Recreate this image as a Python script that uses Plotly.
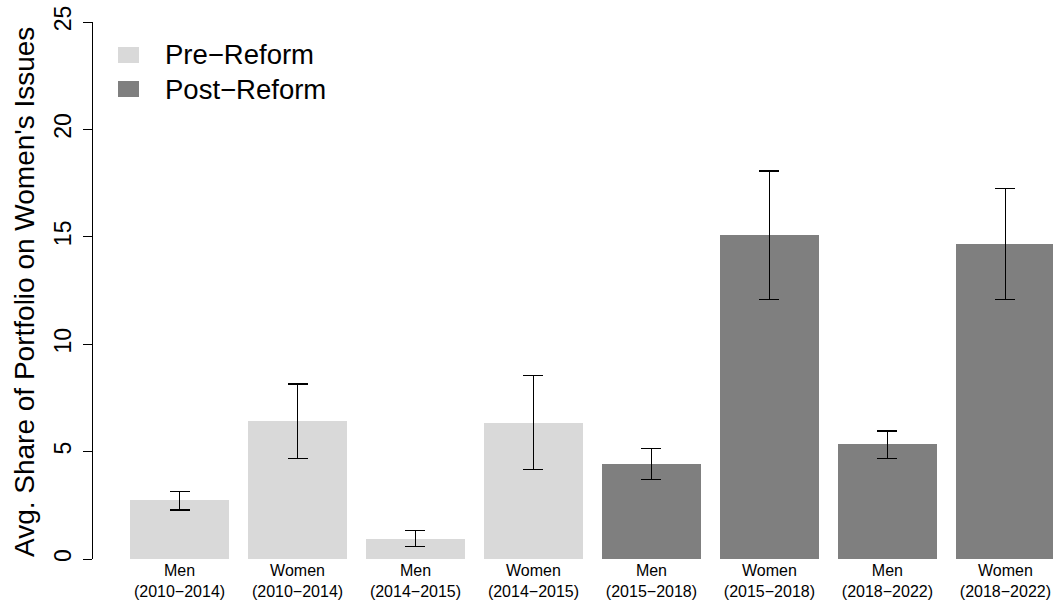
import plotly.graph_objects as go

# Groups shown on the x axis
groups = ["Men", "Women", "Men", "Women", "Men", "Women", "Men", "Women"]
periods = ["2010\u22122014", "2010\u22122014", "2014\u22122015", "2014\u22122015",
           "2015\u22122018", "2015\u22122018", "2018\u22122022", "2018\u22122022"]
reform = ["Pre", "Pre", "Pre", "Pre", "Post", "Post", "Post", "Post"]

# Average share (%) and confidence bounds
share = [2.75, 6.43, 0.93, 6.33, 4.42, 15.09, 5.36, 14.67]
upper = [3.13, 8.15, 1.32, 8.54, 5.14, 18.06, 5.96, 17.25]
lower = [2.28, 4.69, 0.57, 4.15, 3.69, 12.08, 4.69, 12.09]

y_ticks = [0, 5, 10, 15, 20, 25]

colors = {"Pre": "#D9D9D9", "Post": "#7F7F7F"}
legend_names = {"Pre": "Pre\u2212Reform", "Post": "Post\u2212Reform"}

# barplot layout: bar width 1, gap 0.2
centers = [0.7 + 1.2 * i for i in range(len(share))]
tick_text = [f"{g}<br>({p})" for g, p in zip(groups, periods)]

FONT = "Liberation Sans, Arial, Helvetica, sans-serif"
W, H = 1053, 601
ML, MR, MT, MB = 93, 0, 22, 42

fig = go.Figure()
for grp in ["Pre", "Post"]:
    idx = [i for i, r in enumerate(reform) if r == grp]
    fig.add_trace(go.Bar(
        x=[centers[i] for i in idx],
        y=[share[i] for i in idx],
        width=1.0,
        marker=dict(color=colors[grp], line=dict(width=0)),
        error_y=dict(
            type="data", symmetric=False,
            array=[upper[i] - share[i] for i in idx],
            arrayminus=[share[i] - lower[i] for i in idx],
            color="black", thickness=1.2, width=10,
        ),
        name=legend_names[grp],
        showlegend=False,
    ))

# Legend drawn as boxes and labels in the top-left corner
pw, ph = W - ML - MR, H - MT - MB
def px_x(p):
    return (p - ML) / pw
def px_y(p):
    return 1 - (p - MT) / ph

legend_rows = [("Pre", 47, 63), ("Post", 81, 97)]
for grp, y0, y1 in legend_rows:
    fig.add_shape(type="rect", xref="paper", yref="paper",
                  x0=px_x(118), x1=px_x(139), y0=px_y(y1), y1=px_y(y0),
                  fillcolor=colors[grp], line=dict(width=0))
    fig.add_annotation(xref="paper", yref="paper",
                       x=px_x(163), y=px_y((y0 + y1) / 2),
                       xanchor="left", yanchor="middle", showarrow=False,
                       text=legend_names[grp],
                       font=dict(family=FONT, size=27.5, color="black"))

# Rotated y-axis title
fig.add_annotation(xref="paper", yref="paper",
                   x=px_x(24), y=px_y(292),
                   xanchor="center", yanchor="middle", showarrow=False,
                   textangle=-90,
                   text="Avg. Share of Portfolio on Women's Issues",
                   font=dict(family=FONT, size=28, color="black"))

fig.update_layout(
    width=W, height=H,
    margin=dict(l=ML, r=MR, t=MT, b=MB, pad=0),
    paper_bgcolor="white", plot_bgcolor="white",
    font=dict(family=FONT, color="black"),
    bargap=0,
)
fig.update_xaxes(
    range=[-0.18, 9.584],
    tickvals=centers, ticktext=tick_text,
    tickfont=dict(family=FONT, size=16, color="black"),
    showline=False, showgrid=False, zeroline=False, ticks="",
    fixedrange=True,
)
fig.update_yaxes(
    range=[0, 25],
    tickvals=y_ticks, ticktext=[str(v) for v in y_ticks],
    tickangle=-90,
    tickfont=dict(family=FONT, size=23, color="black"),
    ticklabelstandoff=3,
    showline=True, linecolor="black", linewidth=1,
    ticks="outside", ticklen=9, tickwidth=1, tickcolor="black",
    showgrid=False, zeroline=False,
    fixedrange=True,
)

fig.write_html("out.html")
